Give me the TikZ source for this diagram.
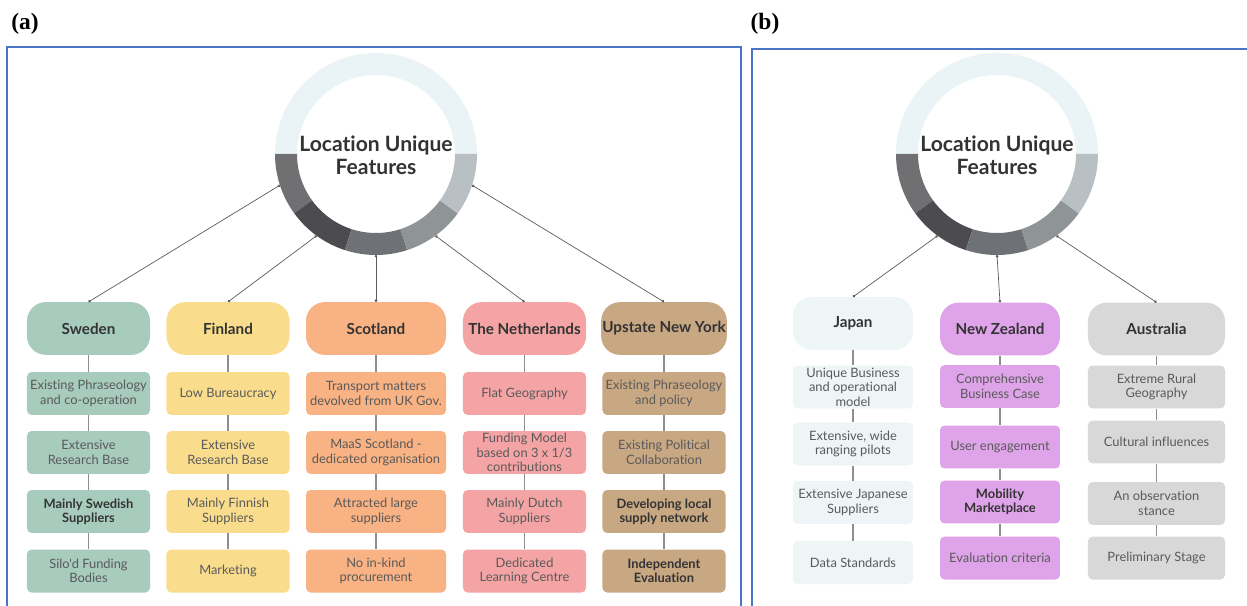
\documentclass[tikz,border=0pt]{standalone}
\usepackage{fontspec}
\setmainfont{Liberation Serif}
\newfontfamily\boxfont[Ligatures=NoCommon]{Lato}
\usepackage{tikz}
\usetikzlibrary{arrows.meta}
\definecolor{INK}{HTML}{333333}
\definecolor{SOFT}{HTML}{5A5A5A}
\definecolor{FRAME}{HTML}{4A74C5}
\definecolor{LINK}{HTML}{5C5C5C}
\definecolor{STEM}{HTML}{8E8E8E}
\definecolor{RINGTOP}{HTML}{EAF4F6}
\definecolor{RINGA}{HTML}{707073}
\definecolor{RINGB}{HTML}{4B4B50}
\definecolor{RINGC}{HTML}{6E7175}
\definecolor{RINGD}{HTML}{8F9497}
\definecolor{RINGE}{HTML}{B9C0C3}
\definecolor{SWE}{HTML}{A7CBBD}
\definecolor{FIN}{HTML}{F9DD8C}
\definecolor{SCO}{HTML}{F8B283}
\definecolor{NED}{HTML}{F4A4A5}
\definecolor{NYS}{HTML}{C8A783}
\definecolor{JPN}{HTML}{EDF5F6}
\definecolor{NZL}{HTML}{DEA3E8}
\definecolor{AUS}{HTML}{D8D8D8}
\newcommand{\ringpart}[5]{\fill[#5] ([shift={(#1,#2)}]#3:101) arc[start angle=#3,end angle=#4,radius=101] -- ([shift={(#1,#2)}]#4:79) arc[start angle=#4,end angle=#3,radius=79] -- cycle;}

\begin{document}
\begin{tikzpicture}[x=0.03cm,y=0.03cm]
\tikzset{frame/.style={line width=1.3pt,FRAME},lab/.style={font=\bfseries\fontsize{20}{24}\selectfont},
 title/.style={font=\boxfont\fontsize{18}{20}\selectfont\bfseries,text=INK,align=center},
 hdr/.style={rounded corners=16pt,minimum height=45pt,inner sep=1pt,font=\boxfont\fontsize{13}{15}\selectfont\bfseries,text=INK,align=center},
 cell/.style={rounded corners=4pt,minimum height=36.7pt,inner sep=1pt,font=\boxfont\fontsize{11}{12.3}\selectfont,text=SOFT,align=center},
 dark/.style={text=INK,font=\boxfont\fontsize{11}{12.3}\selectfont\bfseries},
 wa/.style={minimum width=105pt},wb/.style={minimum width=119.5pt},wc/.style={minimum width=102.4pt},wd/.style={minimum width=117pt},
 link/.style={{Circle[length=2.2pt]}-{Circle[length=2.2pt]},LINK,line width=0.6pt},stem/.style={STEM,line width=0.9pt}}
\useasboundingbox (0,0) rectangle (1247,605);
\fill[white] (0,0) rectangle (1247,605);
\draw[frame] (7,-5) -- (7,558) -- (741,558) -- (741,-5);
\draw[frame] (752,-5) -- (752,556) -- (1252,556);
\node[lab] (laba) at (25,581) {(a)};
\node[lab] (labb) at (765,581) {(b)};
\ringpart{376}{451}{0}{180}{RINGTOP}
\ringpart{376}{451}{180}{216}{RINGA}
\ringpart{376}{451}{216}{252}{RINGB}
\ringpart{376}{451}{252}{288}{RINGC}
\ringpart{376}{451}{288}{324}{RINGD}
\ringpart{376}{451}{324}{360}{RINGE}
\ringpart{997}{451}{0}{180}{RINGTOP}
\ringpart{997}{451}{180}{216}{RINGA}
\ringpart{997}{451}{216}{252}{RINGB}
\ringpart{997}{451}{252}{288}{RINGC}
\ringpart{997}{451}{288}{324}{RINGD}
\ringpart{997}{451}{324}{360}{RINGE}
\node[title] (ringa) at (376,450) {Location Unique\\Features};
\node[title] (ringb) at (997,450) {Location Unique\\Features};
\node[hdr,wa,fill=SWE] (swe) at (88.5,276.5) {Sweden};
\node[cell,wa,fill=SWE] (swe1) at (88.5,211.5) {Existing Phraseology\\and co-operation};
\node[cell,wa,fill=SWE] (swe2) at (88.5,152.5) {Extensive\\Research Base};
\node[cell,wa,fill=SWE,dark] (swe3) at (88.5,93.5) {Mainly Swedish\\Suppliers};
\node[cell,wa,fill=SWE] (swe4) at (88.5,34) {Silo'd Funding\\Bodies};
\node[hdr,wa,fill=FIN] (fin) at (228,276.5) {Finland};
\node[cell,wa,fill=FIN] (fin1) at (228,211.5) {Low Bureaucracy};
\node[cell,wa,fill=FIN] (fin2) at (228,152.5) {Extensive\\Research Base};
\node[cell,wa,fill=FIN] (fin3) at (228,93.5) {Mainly Finnish\\Suppliers};
\node[cell,wa,fill=FIN] (fin4) at (228,34) {Marketing};
\node[hdr,wb,fill=SCO] (sco) at (376,276.5) {Scotland};
\node[cell,wb,fill=SCO] (sco1) at (376,211.5) {Transport matters\\devolved from UK Gov.};
\node[cell,wb,fill=SCO] (sco2) at (376,152.5) {MaaS Scotland -\\dedicated organisation};
\node[cell,wb,fill=SCO] (sco3) at (376,93.5) {Attracted large\\suppliers};
\node[cell,wb,fill=SCO] (sco4) at (376,34) {No in-kind\\procurement};
\node[hdr,wa,fill=NED] (ned) at (524.5,276.5) {The Netherlands};
\node[cell,wa,fill=NED] (ned1) at (524.5,211.5) {Flat Geography};
\node[cell,wa,fill=NED] (ned2) at (524.5,152.5) {Funding Model\\based on 3 x 1/3\\contributions};
\node[cell,wa,fill=NED] (ned3) at (524.5,93.5) {Mainly Dutch\\Suppliers};
\node[cell,wa,fill=NED] (ned4) at (524.5,34) {Dedicated\\Learning Centre};
\node[hdr,wa,fill=NYS] (nys) at (664,276.5) {Upstate New York};
\node[cell,wa,fill=NYS] (nys1) at (664,211.5) {Existing Phraseology\\and policy};
\node[cell,wa,fill=NYS] (nys2) at (664,152.5) {Existing Political\\Collaboration};
\node[cell,wa,fill=NYS,dark] (nys3) at (664,93.5) {Developing local\\supply network};
\node[cell,wa,fill=NYS,dark] (nys4) at (664,34) {Independent\\Evaluation};
\node[hdr,wc,fill=JPN] (jpn) at (853,281.5) {Japan};
\node[cell,wc,fill=JPN] (jpn1) at (853,218) {Unique Business\\and operational\\model};
\node[cell,wc,fill=JPN] (jpn2) at (853,161) {Extensive, wide\\ranging pilots};
\node[cell,wc,fill=JPN] (jpn3) at (853,102.5) {Extensive Japanese\\Suppliers};
\node[cell,wc,fill=JPN] (jpn4) at (853,42.5) {Data Standards};
\node[hdr,wc,fill=NZL] (nzl) at (1000,276) {New Zealand};
\node[cell,wc,fill=NZL] (nzl1) at (1000,218.5) {Comprehensive\\Business Case};
\node[cell,wc,fill=NZL] (nzl2) at (1000,158) {User engagement};
\node[cell,wc,fill=NZL,dark] (nzl3) at (1000,103) {Mobility\\Marketplace};
\node[cell,wc,fill=NZL] (nzl4) at (1000,47) {Evaluation criteria};
\node[hdr,wd,fill=AUS] (aus) at (1156.5,276) {Australia};
\node[cell,wd,fill=AUS] (aus1) at (1156.5,218) {Extreme Rural\\Geography};
\node[cell,wd,fill=AUS] (aus2) at (1156.5,163) {Cultural influences};
\node[cell,wd,fill=AUS] (aus3) at (1156.5,101.5) {An observation\\stance};
\node[cell,wd,fill=AUS] (aus4) at (1156.5,47) {Preliminary Stage};
\coordinate (pa1) at ([shift={(376,451)}]198:101);
\coordinate (pa2) at ([shift={(376,451)}]234:101);
\coordinate (pa3) at ([shift={(376,451)}]270:101);
\coordinate (pa4) at ([shift={(376,451)}]306:101);
\coordinate (pa5) at ([shift={(376,451)}]342:101);
\coordinate (pb1) at ([shift={(997,451)}]234:101);
\coordinate (pb2) at ([shift={(997,451)}]270:101);
\coordinate (pb3) at ([shift={(997,451)}]306:101);
\draw[link] (pa1) -- (swe.north);
\draw[link] (pa2) -- (fin.north);
\draw[link] (pa3) -- (sco.north);
\draw[link] (pa4) -- (ned.north);
\draw[link] (pa5) -- (nys.north);
\draw[link] (pb1) -- (jpn.north);
\draw[link] (pb2) -- (nzl.north);
\draw[link] (pb3) -- (aus.north);
\draw[stem] (swe) -- (swe1); \draw[stem] (swe1) -- (swe2); \draw[stem] (swe2) -- (swe3); \draw[stem] (swe3) -- (swe4);
\draw[stem] (fin) -- (fin1); \draw[stem] (fin1) -- (fin2); \draw[stem] (fin2) -- (fin3); \draw[stem] (fin3) -- (fin4);
\draw[stem] (sco) -- (sco1); \draw[stem] (sco1) -- (sco2); \draw[stem] (sco2) -- (sco3); \draw[stem] (sco3) -- (sco4);
\draw[stem] (ned) -- (ned1); \draw[stem] (ned1) -- (ned2); \draw[stem] (ned2) -- (ned3); \draw[stem] (ned3) -- (ned4);
\draw[stem] (nys) -- (nys1); \draw[stem] (nys1) -- (nys2); \draw[stem] (nys2) -- (nys3); \draw[stem] (nys3) -- (nys4);
\draw[stem] (jpn) -- (jpn1); \draw[stem] (jpn1) -- (jpn2); \draw[stem] (jpn2) -- (jpn3); \draw[stem] (jpn3) -- (jpn4);
\draw[stem] (nzl) -- (nzl1); \draw[stem] (nzl1) -- (nzl2); \draw[stem] (nzl2) -- (nzl3); \draw[stem] (nzl3) -- (nzl4);
\draw[stem] (aus) -- (aus1); \draw[stem] (aus1) -- (aus2); \draw[stem] (aus2) -- (aus3); \draw[stem] (aus3) -- (aus4);
\end{tikzpicture}
\end{document}
